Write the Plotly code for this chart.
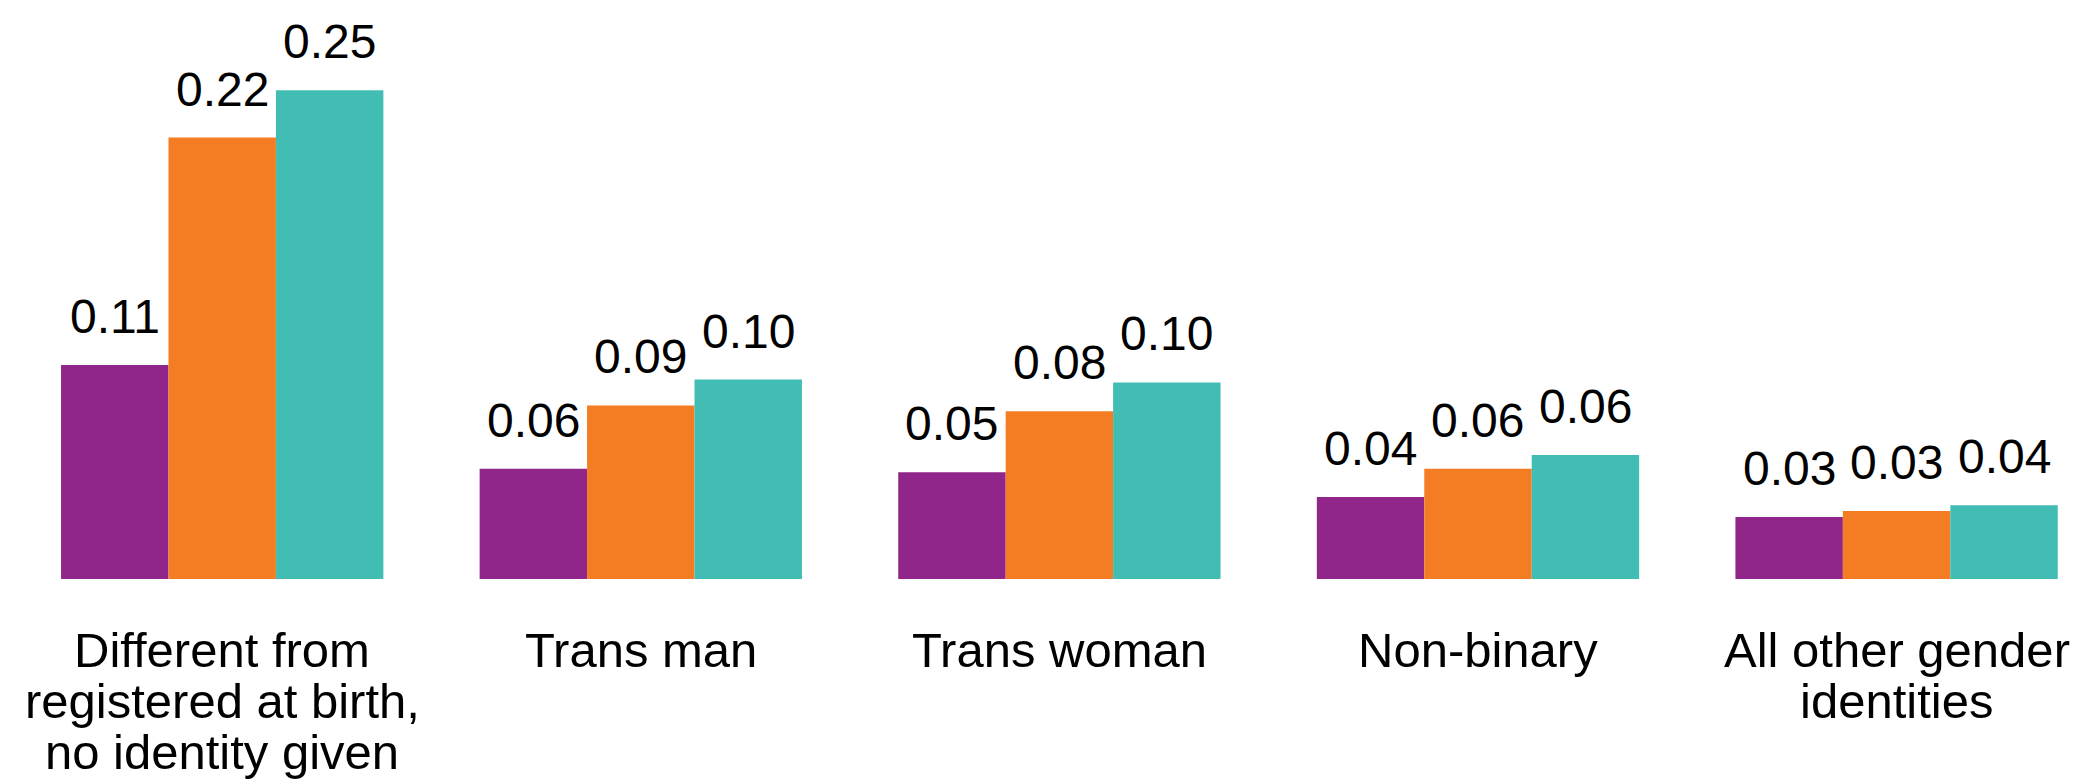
import plotly.graph_objects as go

categories = [
    "Different from registered at birth, no identity given",
    "Trans man",
    "Trans woman",
    "Non-binary",
    "All other gender identities",
]
category_lines = [
    ["Different from", "registered at birth,", "no identity given"],
    ["Trans man"],
    ["Trans woman"],
    ["Non-binary"],
    ["All other gender", "identities"],
]
series_names = ["Series A", "Series B", "Series C"]
series_a = [0.108, 0.0556, 0.0538, 0.0414, 0.0313]
series_b = [0.2227, 0.0876, 0.0846, 0.0556, 0.0343]
series_c = [0.2466, 0.1006, 0.0992, 0.0626, 0.0372]
series_values = [series_a, series_b, series_c]
colors = ["#902689", "#F47D24", "#42BDB3"]

FONT = "Liberation Sans, Arial, sans-serif"
BARGAP = 0.23
n_series = len(series_values)
bar_w = (1 - BARGAP) / n_series

fig = go.Figure()
for name, vals, col in zip(series_names, series_values, colors):
    fig.add_trace(go.Bar(
        x=list(range(len(categories))), y=vals, name=name,
        marker=dict(color=col, line=dict(width=0)),
        hovertext=categories,
    ))

annotations = []
# value labels
for j, vals in enumerate(series_values):
    off = (j - (n_series - 1) / 2) * bar_w
    for i, v in enumerate(vals):
        annotations.append(dict(
            x=i + off, y=v, xref="x", yref="y",
            text=f"{v:.2f}", showarrow=False,
            yanchor="bottom", xanchor="center", yshift=20,
            font=dict(family=FONT, size=48, color="#000000"),
        ))
# category labels (one annotation per line)
LINE = 51
for i, lines in enumerate(category_lines):
    for k, line in enumerate(lines):
        annotations.append(dict(
            x=i, y=0, xref="x", yref="y",
            text=line, showarrow=False,
            yanchor="top", xanchor="center", yshift=-42 - k * LINE,
            font=dict(family=FONT, size=49, color="#000000"),
        ))

fig.update_layout(
    width=2086, height=782,
    margin=dict(l=0, r=0, t=0, b=211),
    paper_bgcolor="white", plot_bgcolor="white",
    barmode="group", bargap=BARGAP, bargroupgap=0,
    showlegend=False,
    font=dict(family=FONT, size=46, color="#000000"),
    xaxis=dict(range=[-0.5117, 4.4716], showticklabels=False, showgrid=False,
               zeroline=False, showline=False, ticks=""),
    yaxis=dict(range=[0, 0.2881], visible=False, showgrid=False, zeroline=False),
    annotations=annotations,
)

fig.write_html("out.html")
